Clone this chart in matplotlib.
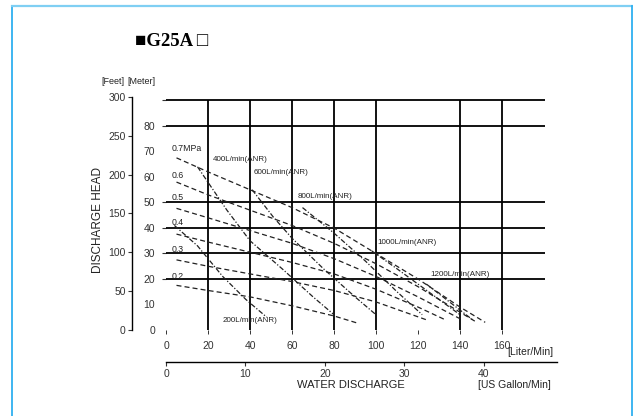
import matplotlib
matplotlib.use("Agg")
import matplotlib.pyplot as plt
from matplotlib.lines import Line2D

plt.rcParams['font.family'] = ['Liberation Sans', 'DejaVu Sans']

# ---- data (flow in L/min, head in m) ----
pressure_labels = ["0.7MPa", "0.6", "0.5", "0.4", "0.3", "0.2"]
p07_flow = [5, 20, 40, 60, 80, 100, 120, 140, 152]
p07_head = [67.5, 62, 55, 48, 40, 30, 20, 9, 3]
p06_flow = [5, 20, 40, 60, 80, 100, 120, 140, 148]
p06_head = [58, 53, 47, 41, 34, 26, 17, 7, 3]
p05_flow = [5, 20, 40, 60, 80, 100, 120, 141]
p05_head = [47.7, 44, 39, 34, 28, 21, 13, 4]
p04_flow = [5, 20, 40, 60, 80, 100, 120, 133]
p04_head = [37.6, 34.5, 30.5, 26.5, 22, 16, 9, 4]
p03_flow = [5, 20, 40, 60, 80, 100, 124]
p03_head = [27.5, 25, 22, 19, 15.5, 11, 4]
p02_flow = [5, 20, 40, 60, 80, 92]
p02_head = [17.5, 15.5, 13, 9.5, 5.5, 2.5]

air_labels = ["200L/min(ANR)", "400L/min(ANR)", "600L/min(ANR)",
              "800L/min(ANR)", "1000L/min(ANR)", "1200L/min(ANR)"]
a200_flow = [4, 15, 27, 38, 48]
a200_head = [41, 33, 21, 12, 5]
a400_flow = [15, 29, 40, 56, 70, 80]
a400_head = [64, 47, 35, 23.5, 13, 6]
a600_flow = [41, 51, 60, 75, 90, 100]
a600_head = [55, 44.4, 36, 24, 13, 6]
a800_flow = [65, 80, 95, 110, 122]
a800_head = [48, 38, 27, 15, 6]
a1000_flow = [98, 110, 125, 140]
a1000_head = [31, 24, 15, 6]
a1200_flow = [124, 135, 146]
a1200_head = [18, 11, 4]

liter_ticks = [0, 20, 40, 60, 80, 100, 120, 140, 160]
liter_grid = [20, 40, 60, 80, 100, 140, 160]
meter_ticks = [0, 10, 20, 30, 40, 50, 60, 70, 80, 90]
meter_labels = ["0", "10", "20", "30", "40", "50", "60", "70", "80", ""]
meter_dash = [False, False, True, True, True, True, False, False, True, True]
meter_grid = [20, 30, 40, 50, 80, 90]
feet_ticks = [0, 50, 100, 150, 200, 250, 300]
gallon_ticks = [0, 10, 20, 30, 40]

M_TO_FT = 3.2808
GAL_TO_L = 3.7854

W, H = 633, 416
fig = plt.figure(figsize=(W / 100, H / 100), dpi=100)
fig.patch.set_facecolor("white")

# light blue frame
fig.add_artist(Line2D([12 / W, 12 / W], [0, 1 - 6 / H], color="#2fb0f0", lw=1.3))
fig.add_artist(Line2D([12 / W, 632 / W], [1 - 6 / H, 1 - 6 / H], color="#7fcff3", lw=1.6))
fig.add_artist(Line2D([632 / W, 632 / W], [0, 1 - 6 / H], color="#2fb0f0", lw=1.3))

fig.text(135 / W, 1 - 42 / H, "■G25A □", fontsize=13.5, fontweight="bold",
         family=["Liberation Serif", "DejaVu Serif", "DejaVu Sans"], va="center")

ax = fig.add_axes([166 / W, (H - 330) / H, 379 / W, 233.2 / H])
ax.set_xlim(0, 379 / 2.1)
ax.set_ylim(0, 300 / M_TO_FT)
for s in ax.spines.values():
    s.set_visible(False)

ax.hlines(meter_grid, 0, 379 / 2.1, color="black", lw=1.3)
ax.vlines(liter_grid, 0, 90, color="black", lw=1.3)

ax.set_xticks(liter_ticks)
ax.set_xticklabels([str(v) for v in liter_ticks])
ax.tick_params(axis="x", length=3, width=0.7, pad=5, labelsize=7.5, colors="#333333")
ax.set_yticks(meter_ticks)
ax.set_yticklabels(meter_labels)
ax.tick_params(axis="y", length=3, width=0.8, pad=5, labelsize=7.5, colors="#333333")
for t, d in zip(ax.yaxis.get_major_ticks(), meter_dash):
    t.tick1line.set_visible(d)

feet = ax.secondary_yaxis(-34 / 379, functions=(lambda m: m * M_TO_FT, lambda f: f / M_TO_FT))
feet.set_yticks(feet_ticks)
feet.tick_params(length=3, width=0.8, pad=1.5, labelsize=7.5, colors="#333333")
feet.spines["left"].set_linewidth(1.0)

pressure = [(p07_flow, p07_head), (p06_flow, p06_head), (p05_flow, p05_head),
            (p04_flow, p04_head), (p03_flow, p03_head), (p02_flow, p02_head)]
for fl, hd in pressure:
    ax.plot(fl, hd, color="#222222", lw=0.9, ls=(0, (4, 2.5)))

air = [(a200_flow, a200_head), (a400_flow, a400_head), (a600_flow, a600_head),
       (a800_flow, a800_head), (a1000_flow, a1000_head), (a1200_flow, a1200_head)]
for fl, hd in air:
    ax.plot(fl, hd, color="#222222", lw=0.9, ls=(0, (4, 1.5, 1, 1.5)))

# curve labels
p_pos = [(2.9, 71), (2.9, 60.5), (2.9, 51.8), (2.9, 42), (2.9, 31.4), (2.9, 20.8)]
for lab, (x, y) in zip(pressure_labels, p_pos):
    ax.text(x, y, lab, fontsize=6.3, va="center", ha="left", color="#222222")
a_pos = [(27.1, 3.9), (22.4, 66.7), (41.9, 61.6), (62.9, 52.2), (100.5, 34.5), (125.7, 21.6)]
for lab, (x, y) in zip(air_labels, a_pos):
    ax.text(x, y, lab, fontsize=5.8, va="center", ha="left", color="#222222")

# gallon scale
gax = fig.add_axes([166 / W, (H - 362) / H, 391 / W, 0.0001])
gax.set_xlim(0, 391 / 2.1 / GAL_TO_L)
gax.set_yticks([])
for k in ["top", "left", "right"]:
    gax.spines[k].set_visible(False)
gax.spines["bottom"].set_linewidth(1.0)
gax.set_xticks(gallon_ticks)
gax.tick_params(axis="x", length=3, width=0.8, pad=2, labelsize=7.5, colors="#333333")

fig.text(507 / W, 1 - 352 / H, "[Liter/Min]", fontsize=7.5, va="center", color="#222222")
fig.text(478 / W, 1 - 385 / H, "[US Gallon/Min]", fontsize=7.5, va="center", color="#222222")
fig.text(351 / W, 1 - 385 / H, "WATER DISCHARGE", fontsize=8, ha="center", va="center", color="#222222")
fig.text(98 / W, 1 - 220 / H, "DISCHARGE HEAD", fontsize=8.5, rotation=90,
         ha="center", va="center", color="#222222")
fig.text(113 / W, 1 - 82 / H, "[Feet]", fontsize=6.5, ha="center", va="center", color="#222222")
fig.text(141 / W, 1 - 82 / H, "[Meter]", fontsize=6.5, ha="center", va="center", color="#222222")

fig.savefig("out.png", dpi=100)
